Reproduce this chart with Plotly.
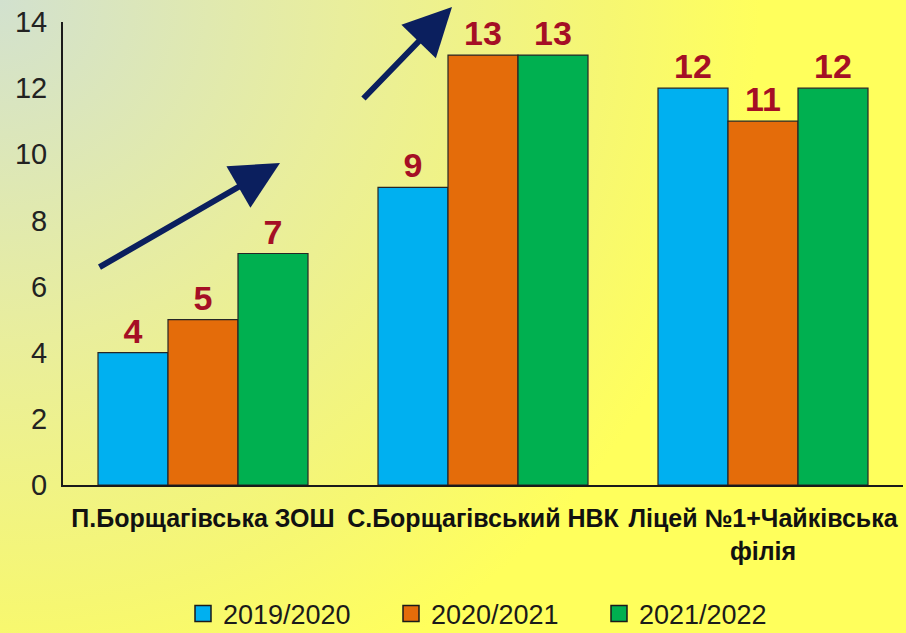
import base64
import plotly.graph_objects as go

categories = ["П.Борщагівська ЗОШ", "С.Борщагівський НВК", "Ліцей №1+Чайківська<br>філія"]
series_names = ["2019/2020", "2020/2021", "2021/2022"]
values_2019 = [4, 9, 12]
values_2020 = [5, 13, 11]
values_2021 = [7, 13, 12]
series_values = [values_2019, values_2020, values_2021]
colors = ["#00b0f0", "#e46c0a", "#00b050"]
y_ticks = [0, 2, 4, 6, 8, 10, 12, 14]

W, H = 906, 633
ml, mr, mt, mb = 63, 3, 22, 148
pw, ph = W - ml - mr, H - mt - mb
FONT = "Liberation Sans"

fig = go.Figure()
for name, vals, col in zip(series_names, series_values, colors):
    fig.add_trace(go.Bar(
        name=name, x=categories, y=vals, showlegend=False,
        marker=dict(color=col, line=dict(color="#262626", width=1.2)),
        text=[str(v) for v in vals], textposition="outside",
        textfont=dict(family=FONT, size=34, color="#a50f25", weight="bold"),
        cliponaxis=False,
    ))
# legend entries with larger square swatches
for name, col in zip(series_names, colors):
    fig.add_trace(go.Scatter(
        name=name, x=[None], y=[None], mode="markers",
        marker=dict(symbol="square", size=18, color=col, line=dict(color="#1a1a1a", width=1.5)),
    ))

svg = f'''<svg xmlns="http://www.w3.org/2000/svg" width="{W}" height="{H}" viewBox="0 0 {W} {H}">
<defs><radialGradient id="g" gradientUnits="userSpaceOnUse" cx="0" cy="0" r="760">
<stop offset="0" stop-color="#d2e1cf"/>
<stop offset="0.45" stop-color="#e9ee9c"/>
<stop offset="0.8" stop-color="#f6f772"/>
<stop offset="1" stop-color="#ffff5c"/>
</radialGradient></defs>
<rect width="{W}" height="{H}" fill="url(#g)"/></svg>'''
src = "data:image/svg+xml;base64," + base64.b64encode(svg.encode()).decode()

fig.update_layout(
    width=W, height=H,
    margin=dict(l=ml, r=mr, t=mt, b=mb, autoexpand=False),
    paper_bgcolor="#f4f48a", plot_bgcolor="rgba(0,0,0,0)",
    barmode="group", bargap=0.25, bargroupgap=0,
    font=dict(family=FONT, color="#1a1a1a"),
    images=[dict(source=src, xref="paper", yref="paper",
                 x=-ml / pw, y=1 + mt / ph, sizex=W / pw, sizey=H / ph,
                 sizing="stretch", layer="below", xanchor="left", yanchor="top")],
    showlegend=True,
    legend=dict(orientation="h", x=(183 - ml) / pw, xanchor="left",
                y=-(614 - 485) / ph, yanchor="middle",
                font=dict(size=27, family=FONT, color="#1a1a1a"),
                bgcolor="rgba(0,0,0,0)", itemsizing="trace", traceorder="normal",
                itemwidth=30, tracegroupgap=0,
                entrywidth=163, entrywidthmode="pixels"),
    xaxis=dict(showline=True, linecolor="#1a1a1a", linewidth=2, ticks="",
               tickfont=dict(size=25, family=FONT, weight="bold", color="#111"),
               showgrid=False, ticklabelstandoff=10),
    yaxis=dict(range=[0, 14], tickvals=y_ticks, showline=True, linecolor="#1a1a1a",
               linewidth=2, ticks="", showgrid=False, zeroline=False,
               tickfont=dict(size=29, family=FONT, color="#222"),
               ticklabelstandoff=8),
)

arrow_color = "#0b1f5e"
for (tx, ty, sx, sy) in [(280, 163, 98, 268), (452, 7, 362, 100)]:
    fig.add_annotation(
        x=(tx - ml) / pw, y=(485 - ty) / ph, xref="paper", yref="paper",
        ax=sx - tx, ay=sy - ty, axref="pixel", ayref="pixel",
        showarrow=True, arrowhead=2, arrowsize=1.6, arrowwidth=6,
        arrowcolor=arrow_color, text="", standoff=0,
    )

fig.write_html("out.html", config={"displayModeBar": False},
               post_script="document.body.style.margin='0';document.body.style.overflow='hidden';")
